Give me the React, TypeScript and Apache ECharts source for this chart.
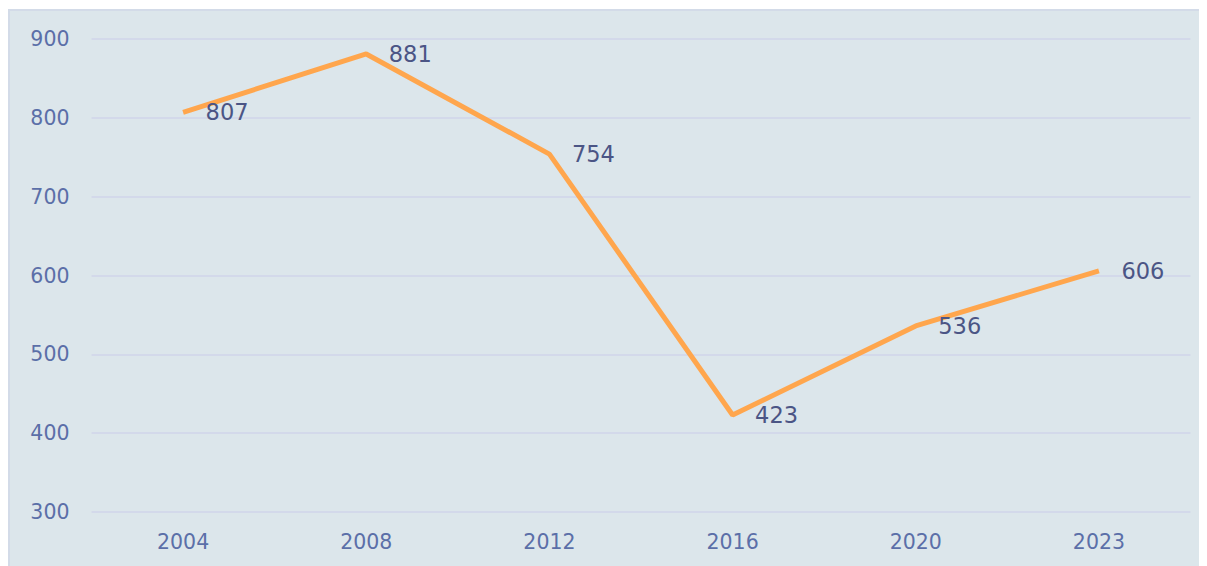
import React, { useEffect, useRef } from "react";
import * as echarts from "echarts";

const years = ["2004", "2008", "2012", "2016", "2020", "2023"];
const values = [807, 881, 754, 423, 536, 606];

export default function App() {
  const ref = useRef<HTMLDivElement>(null);
  useEffect(() => {
    if (!ref.current) return;
    document.documentElement.style.overflow = "hidden";
    document.body.style.overflow = "hidden";
    const chart = echarts.init(ref.current, null, { renderer: "svg" });
    const font = "DejaVu Sans";
    chart.setOption({
      animation: false,
      backgroundColor: "#dce6eb",
      grid: { left: 81.5, right: 47.5, top: 28, bottom: 64 },
      xAxis: {
        type: "category",
        data: years,
        boundaryGap: true,
        axisLine: { show: false },
        axisTick: { show: false },
        axisLabel: { color: "#5b6fa8", fontSize: 20.5, fontFamily: font, margin: 19 },
      },
      yAxis: {
        type: "value",
        min: 300,
        max: 900,
        interval: 100,
        axisLine: { show: false },
        axisTick: { show: false },
        splitLine: { lineStyle: { color: "#d3d9ea", width: 2 } },
        axisLabel: { color: "#5b6fa8", fontSize: 20.5, fontFamily: font, margin: 22 },
      },
      series: [
        {
          type: "line",
          data: values,
          symbol: "circle",
          symbolSize: 1,
          showSymbol: true,
          itemStyle: { color: "rgba(0,0,0,0)" },
          lineStyle: { color: "#ffa64d", width: 5 },
          label: {
            show: true,
            position: "right",
            distance: 22,
            color: "#4b5585",
            fontSize: 22.5,
            fontFamily: font,
          },
        },
      ],
    });
    return () => chart.dispose();
  }, []);
  return (
    <div
      ref={ref}
      style={{
        width: 1230,
        height: 567,
        borderTop: "2px solid #d3dbe8",
        borderLeft: "2px solid #d3dbe8",
        boxSizing: "border-box",
        marginTop: 1,
      }}
    />
  );
}
